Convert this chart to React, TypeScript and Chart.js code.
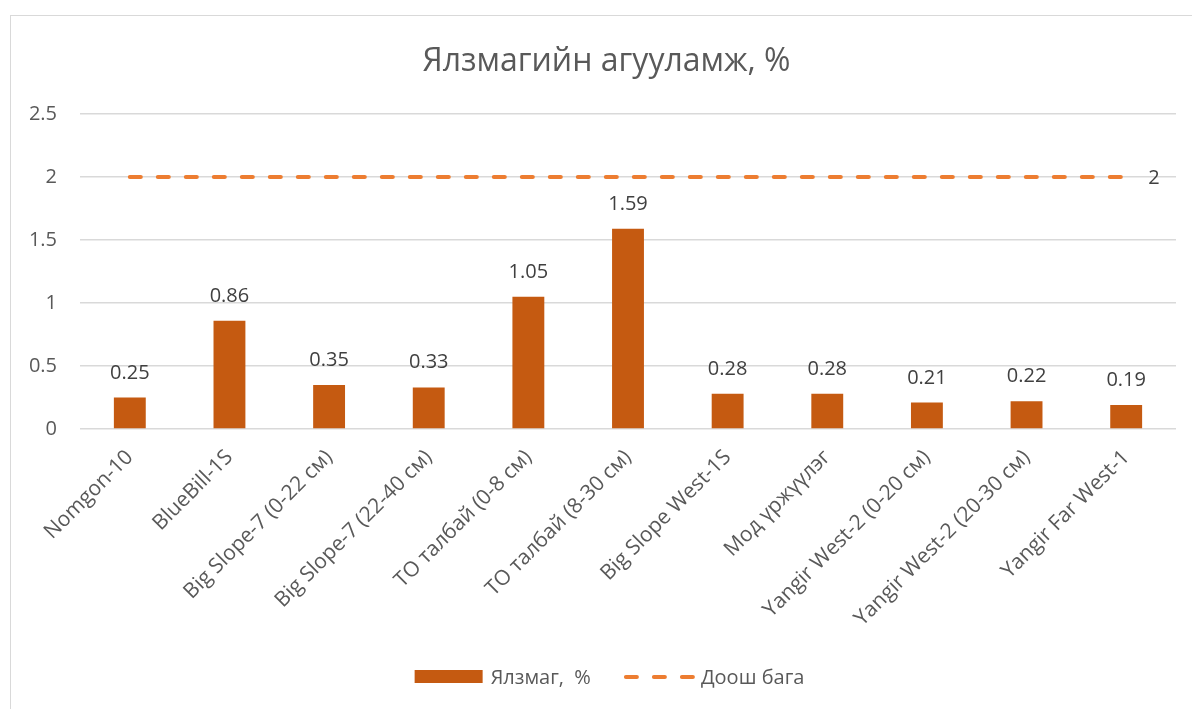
import React, { useEffect, useRef } from "react";
import { Chart, registerables } from "chart.js";

Chart.register(...registerables);

const categories = [
  "Nomgon-10",
  "BlueBill-1S",
  "Big Slope-7 (0-22 см)",
  "Big Slope-7 (22-40 см)",
  "ТО талбай (0-8 см)",
  "ТО талбай (8-30 см)",
  "Big Slope West-1S",
  "Мод үржүүлэг",
  "Yangir West-2 (0-20 см)",
  "Yangir West-2 (20-30 см)",
  "Yangir Far West-1",
];
const humusValues = [0.25, 0.86, 0.35, 0.33, 1.05, 1.59, 0.28, 0.28, 0.21, 0.22, 0.19];
const lowerLimit = [2, 2, 2, 2, 2, 2, 2, 2, 2, 2, 2];
const yTickValues = [0, 0.5, 1, 1.5, 2, 2.5];
const seriesNames = ["Ялзмаг,  %", "Доош бага"];
const titleText = "Ялзмагийн агууламж, %";

const FONT = "'Open Sans', 'Noto Sans', sans-serif";
const BAR_COLOR = "#C55A11";
const LINE_COLOR = "#ED7D31";
const TEXT_COLOR = "#595959";
const LABEL_COLOR = "#404040";
const FS = 20;

const customPlugin = {
  id: "customLabels",
  afterDatasetsDraw(chart: any) {
    const ctx = chart.ctx as CanvasRenderingContext2D;
    ctx.save();
    // title
    ctx.font = `32px ${FONT}`;
    ctx.fillStyle = TEXT_COLOR;
    ctx.textAlign = "center";
    ctx.textBaseline = "middle";
    ctx.fillText(titleText, chart.width / 2 + 5, 46);

    ctx.font = `${FS}px ${FONT}`;
    ctx.fillStyle = LABEL_COLOR;
    // data labels above bars
    const barMeta = chart.getDatasetMeta(0);
    ctx.textAlign = "center";
    ctx.textBaseline = "alphabetic";
    barMeta.data.forEach((el: any, i: number) => {
      ctx.fillText(String(humusValues[i]), el.x, el.y - 19);
    });
    // label at end of line
    const lineMeta = chart.getDatasetMeta(1);
    const lastIdx = lineMeta.data.length - 1;
    const last = lineMeta.data[lastIdx];
    ctx.textAlign = "left";
    ctx.textBaseline = "middle";
    ctx.fillText(String(lowerLimit[lastIdx]), last.x + 22, last.y + 1);

    // legend
    const cy = 661;
    const w1 = ctx.measureText(seriesNames[0]).width;
    const w2 = ctx.measureText(seriesNames[1]).width;
    const sw1 = 68, sw2 = 71, g1 = 8, g2 = 6, gap = 33;
    const total = sw1 + g1 + w1 + gap + sw2 + g2 + w2;
    let x = chart.width / 2 + 8 - total / 2;
    ctx.fillStyle = BAR_COLOR;
    ctx.fillRect(x, cy - 7, sw1, 13);
    x += sw1 + g1;
    ctx.fillStyle = TEXT_COLOR;
    ctx.textAlign = "left";
    ctx.textBaseline = "middle";
    ctx.fillText(seriesNames[0], x, cy + 1);
    x += w1 + gap;
    ctx.strokeStyle = LINE_COLOR;
    ctx.lineWidth = 4;
    ctx.lineCap = "round";
    ctx.setLineDash([11, 17]);
    ctx.beginPath();
    ctx.moveTo(x + 2, cy);
    ctx.lineTo(x + sw2 - 2, cy);
    ctx.stroke();
    ctx.setLineDash([]);
    x += sw2 + g2;
    ctx.fillStyle = TEXT_COLOR;
    ctx.fillText(seriesNames[1], x, cy + 1);
    ctx.restore();
  },
};

export default function App() {
  const ref = useRef<HTMLCanvasElement>(null);
  useEffect(() => {
    if (!ref.current) return;
    const chart = new Chart(ref.current, {
      type: "bar",
      data: {
        labels: categories,
        datasets: [
          {
            type: "bar",
            label: seriesNames[0],
            data: humusValues,
            backgroundColor: BAR_COLOR,
            borderWidth: 0,
            barPercentage: 0.32,
            categoryPercentage: 1,
            order: 2,
          },
          {
            type: "line",
            label: seriesNames[1],
            data: lowerLimit,
            borderColor: LINE_COLOR,
            backgroundColor: LINE_COLOR,
            borderWidth: 4,
            borderDash: [11, 17],
            borderCapStyle: "round",
            pointRadius: 0,
            fill: false,
            order: 1,
          },
        ] as any,
      },
      options: {
        animation: false,
        responsive: false,
        maintainAspectRatio: false,
        layout: { padding: { left: 0, right: 16, top: 98, bottom: 0 } },
        plugins: {
          legend: { display: false },
          tooltip: { enabled: false },
          title: { display: false },
        },
        scales: {
          x: {
            grid: { display: false },
            border: { display: false },
            ticks: {
              autoSkip: false,
              maxRotation: 45,
              minRotation: 45,
              color: TEXT_COLOR,
              font: { family: FONT, size: 21 },
              padding: 8,
            },
            afterFit: (scale: any) => {
              scale.height = 280;
            },
          },
          y: {
            min: 0,
            max: 2.5,
            grid: { color: "#D9D9D9", lineWidth: 1.5, drawTicks: false },
            border: { display: false },
            afterBuildTicks: (scale: any) => {
              scale.ticks = yTickValues.map((v) => ({ value: v }));
            },
            ticks: {
              color: TEXT_COLOR,
              font: { family: FONT, size: FS },
              padding: 23,
              callback: (v: any) => String(v),
            },
            afterFit: (scale: any) => {
              scale.width = 69;
            },
          },
        },
      },
      plugins: [customPlugin],
    });
    return () => chart.destroy();
  }, []);

  return (
    <div
      style={{
        position: "absolute",
        left: 10,
        top: 15,
        width: 1182,
        height: 694,
        borderTop: "1px solid #D9D9D9",
        borderLeft: "1px solid #D9D9D9",
        overflow: "hidden",
        background: "#fff",
      }}
    >
      <canvas ref={ref} width={1181} height={693} style={{ display: "block" }} />
    </div>
  );
}
